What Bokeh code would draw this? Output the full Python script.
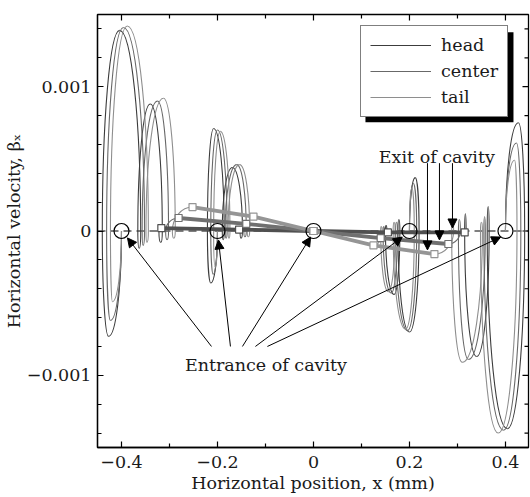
from bokeh.plotting import figure
from bokeh.models import (FixedTicker, Range1d, Span, Arrow, NormalHead,
                          Label, Legend, LegendItem, BoxAnnotation, ColumnDataSource)
from bokeh.embed import file_html
from bokeh.resources import INLINE

FONT = "DejaVu Serif"
FS = "17.5px"
TXT = "#1a1a1a"

# ---------------- data ----------------
series_names = ["head", "center", "tail"]
series_colors = ["#3c3c3c", "#686868", "#8e8e8e"]
exit_colors = ["#505050", "#707070", "#959595"]

x_ticks = [-0.4, -0.2, 0.0, 0.2, 0.4]
x_tick_labels = ["\u22120.4", "\u22120.2", "0", "0.2", "0.4"]
x_minor = [-0.3, -0.1, 0.1, 0.3]
y_ticks = [-0.001, 0.0, 0.001]
y_tick_labels = ["\u22120.001", "0", "0.001"]
y_minor = [-0.0014, -0.0012, -0.0008, -0.0006, -0.0004, -0.0002,
           0.0002, 0.0004, 0.0006, 0.0008, 0.0012, 0.0014]

entrance_x = [-0.4, -0.2, 0.0, 0.2, 0.4]
entrance_y = [0.0, 0.0, 0.0, 0.0, 0.0]

# trajectories: zero crossings (turns), lobe extreme x, lobe extreme beta
# entrance at -0.4
h_m4_turn = [-0.400, -0.440, -0.360, -0.366, -0.315, -0.322]
h_m4_px = [-0.427, -0.404, -0.363, -0.340, -0.318]
h_m4_py = [-0.00073, 0.00139, -0.00012, 0.00088, -0.00008]
c_m4_turn = [-0.400, -0.431, -0.352, -0.357, -0.302, -0.308]
c_m4_px = [-0.423, -0.396, -0.355, -0.325, -0.305]
c_m4_py = [-0.00062, 0.00141, -0.00010, 0.00090, -0.00006]
t_m4_turn = [-0.400, -0.423, -0.344, -0.349, -0.288, -0.294]
t_m4_px = [-0.419, -0.388, -0.347, -0.3125, -0.291]
t_m4_py = [-0.00049, 0.00142, -0.00008, 0.00092, -0.00005]
# entrance at -0.2
h_m2_turn = [-0.200, -0.221, -0.186, -0.190, -0.148, -0.153]
h_m2_px = [-0.214, -0.208, -0.188, -0.169, -0.151]
h_m2_py = [-0.00036, 0.00071, -0.00006, 0.00044, -0.00005]
c_m2_turn = [-0.200, -0.214, -0.180, -0.184, -0.140, -0.145]
c_m2_px = [-0.209, -0.200, -0.182, -0.160, -0.143]
c_m2_py = [-0.00030, 0.00070, -0.00005, 0.00046, -0.00004]
t_m2_turn = [-0.200, -0.208, -0.174, -0.178, -0.133, -0.138]
t_m2_px = [-0.205, -0.194, -0.176, -0.154, -0.136]
t_m2_py = [-0.00025, 0.00069, -0.00005, 0.00046, -0.00004]
# entrance at 0.2
h_p2_turn = [0.200, 0.220, 0.176, 0.180, 0.150, 0.153]
h_p2_px = [0.212, 0.200, 0.178, 0.168, 0.151]
h_p2_py = [0.00037, -0.00070, 0.00008, -0.00044, 0.00004]
c_p2_turn = [0.200, 0.215, 0.171, 0.175, 0.145, 0.148]
c_p2_px = [0.208, 0.196, 0.173, 0.162, 0.146]
c_p2_py = [0.00033, -0.00069, 0.00006, -0.00043, 0.00003]
t_p2_turn = [0.200, 0.210, 0.166, 0.170, 0.140, 0.143]
t_p2_px = [0.205, 0.192, 0.168, 0.156, 0.141]
t_p2_py = [0.00030, -0.00068, 0.00006, -0.00042, 0.00003]
# entrance at 0.4
h_p4_turn = [0.400, 0.440, 0.362, 0.366, 0.315, 0.318]
h_p4_px = [0.427, 0.404, 0.364, 0.340, 0.3165]
h_p4_py = [0.00075, -0.00137, 0.00017, -0.00087, 0.00012]
c_p4_turn = [0.400, 0.432, 0.355, 0.358, 0.302, 0.306]
c_p4_px = [0.423, 0.396, 0.3565, 0.323, 0.304]
c_p4_py = [0.00061, -0.00138, 0.00010, -0.00089, 0.00008]
t_p4_turn = [0.400, 0.424, 0.348, 0.352, 0.288, 0.292]
t_p4_px = [0.419, 0.385, 0.350, 0.310, 0.290]
t_p4_py = [0.00049, -0.00140, 0.00006, -0.00091, 0.00005]

# exit points (squares) for entrances -0.4, -0.2, 0, 0.2, 0.4
head_exit_x = [-0.317, -0.155, 0.0, 0.155, 0.315]
head_exit_y = [0.00002, 0.00001, 0.0, -0.00001, -0.00001]
center_exit_x = [-0.281, -0.140, 0.0, 0.140, 0.281]
center_exit_y = [0.00009, 0.00005, 0.0, -0.00005, -0.00009]
tail_exit_x = [-0.252, -0.125, 0.0, 0.125, 0.252]
tail_exit_y = [0.000166, 0.0001, 0.0, -0.0001, -0.00016]

# annotation arrows
entr_arrow_x0 = [-0.2125, -0.173, -0.148, -0.121, -0.096]
entr_arrow_y0 = [-0.00080, -0.00080, -0.00080, -0.00080, -0.00080]
entr_arrow_x1 = [-0.3875, -0.198, -0.006, 0.185, 0.390]
entr_arrow_y1 = [-0.000048, -0.000062, -0.000042, -0.000042, -0.000042]
exit_arrow_x = [0.2375, 0.2625, 0.2896]
exit_arrow_y0 = [0.00047, 0.00047, 0.00047]
exit_arrow_y1 = [-0.000131, -0.000062, 0.000021]

X0, X1, Y0, Y1 = -0.45, 0.448, -0.0015, 0.0015

# ---------------- figure ----------------
p = figure(width=530, height=497, x_range=Range1d(X0, X1),
           y_range=Range1d(Y0, Y1), output_backend="svg",
           toolbar_location=None, min_border_left=97, min_border_right=2,
           min_border_top=14, min_border_bottom=50)
p.grid.visible = False
p.outline_line_color = "black"
p.outline_line_width = 1.3
p.background_fill_color = "white"
p.border_fill_color = "white"


def style_axis(ax, ticks, minor, labels, standoff, label_standoff):
    ax.ticker = FixedTicker(ticks=ticks, minor_ticks=minor)
    ax.major_tick_in = 6
    ax.major_tick_out = 0
    ax.minor_tick_in = 4
    ax.minor_tick_out = 0
    ax.axis_line_color = "black"
    ax.axis_line_width = 1.3
    ax.major_tick_line_color = "black"
    ax.major_tick_line_width = 1.2
    ax.minor_tick_line_color = "black"
    ax.minor_tick_line_width = 1.2
    ax.major_label_overrides = {t: l for t, l in zip(ticks, labels)}
    ax.major_label_text_font = FONT
    ax.major_label_text_font_size = FS
    ax.major_label_text_color = TXT
    ax.major_label_standoff = standoff
    ax.axis_label_text_font = FONT
    ax.axis_label_text_font_size = FS
    ax.axis_label_text_font_style = "normal"
    ax.axis_label_text_color = TXT
    ax.axis_label_standoff = label_standoff


style_axis(p.xaxis[0], x_ticks, x_minor, x_tick_labels, 8, 2)
style_axis(p.yaxis[0], y_ticks, y_minor, y_tick_labels, 6, 0)
p.xaxis[0].axis_label = "Horizontal position, x (mm)"
p.yaxis[0].axis_label = "Horizontal velocity, \u03b2\u2093"

# inward ticks on top and right edges (half of each dash is clipped by the frame)
p.scatter(x_ticks, [Y1] * len(x_ticks), marker="dash", angle=1.5708, size=12,
          line_color="black", line_width=1.2)
p.scatter(x_minor, [Y1] * len(x_minor), marker="dash", angle=1.5708, size=8,
          line_color="black", line_width=1.2)
p.scatter([X1] * len(y_ticks), y_ticks, marker="dash", size=12,
          line_color="black", line_width=1.2)
p.scatter([X1] * len(y_minor), y_minor, marker="dash", size=8,
          line_color="black", line_width=1.2)

# dashed zero line
p.add_layout(Span(location=0, dimension="width", line_color="black",
                  line_width=1.1, line_dash="8 5", level="underlay"))

K = 0.5523  # quarter-ellipse bezier constant


def build(parts, exits):
    d = {k: [] for k in ("x0", "y0", "x1", "y1", "cx0", "cy0", "cx1", "cy1")}

    def add(*vals):
        for k, v in zip(("x0", "y0", "x1", "y1", "cx0", "cy0", "cx1", "cy1"), vals):
            d[k].append(v)

    for (turns, px, py), (ex, ey) in zip(parts, exits):
        for i in range(len(px)):
            a, b, xp, h = turns[i], turns[i + 1], px[i], py[i]
            add(a, 0.0, xp, h, a, K * h, xp - K * (xp - a), h)
            add(xp, h, b, 0.0, xp + K * (b - xp), h, b, K * h)
        last = turns[-1]
        add(last, 0.0, ex, ey, last, K * ey, ex - K * (ex - last), ey)
    return d


traj = {
    "head": [(h_m4_turn, h_m4_px, h_m4_py), (h_m2_turn, h_m2_px, h_m2_py),
             (h_p2_turn, h_p2_px, h_p2_py), (h_p4_turn, h_p4_px, h_p4_py)],
    "center": [(c_m4_turn, c_m4_px, c_m4_py), (c_m2_turn, c_m2_px, c_m2_py),
               (c_p2_turn, c_p2_px, c_p2_py), (c_p4_turn, c_p4_px, c_p4_py)],
    "tail": [(t_m4_turn, t_m4_px, t_m4_py), (t_m2_turn, t_m2_px, t_m2_py),
             (t_p2_turn, t_p2_px, t_p2_py), (t_p4_turn, t_p4_px, t_p4_py)],
}
exits = {
    "head": (head_exit_x, head_exit_y),
    "center": (center_exit_x, center_exit_y),
    "tail": (tail_exit_x, tail_exit_y),
}

legend_items = []
for name, col in zip(series_names, series_colors):
    ex, ey = exits[name]
    ex_pts = [(ex[i], ey[i]) for i in (0, 1, 3, 4)]
    src = ColumnDataSource(build(traj[name], ex_pts))
    r = p.bezier(x0="x0", y0="y0", x1="x1", y1="y1", cx0="cx0", cy0="cy0",
                 cx1="cx1", cy1="cy1", source=src, line_color=col, line_width=1.1)
    legend_items.append(LegendItem(label=name, renderers=[r]))

# exit connection lines with squares
for name, col in zip(series_names, exit_colors):
    ex, ey = exits[name]
    p.line(ex, ey, line_color=col, line_width=3.8)
    p.scatter(ex, ey, marker="square", size=7, fill_color="white",
              line_color=col, line_width=1.2)

# entrance circles
p.scatter(entrance_x, entrance_y, marker="circle", size=15, fill_color=None,
          line_color="black", line_width=1.2)

# arrows
head_style = dict(size=9, fill_color="black", line_color="black", line_width=1)
p.add_layout(Arrow(end=NormalHead(**head_style), line_color="black", line_width=1,
                   source=ColumnDataSource(dict(x0=entr_arrow_x0, y0=entr_arrow_y0,
                                                x1=entr_arrow_x1, y1=entr_arrow_y1)),
                   x_start="x0", y_start="y0", x_end="x1", y_end="y1"))
p.add_layout(Arrow(end=NormalHead(**head_style), line_color="black", line_width=1,
                   source=ColumnDataSource(dict(x0=exit_arrow_x, y0=exit_arrow_y0,
                                                x1=exit_arrow_x, y1=exit_arrow_y1)),
                   x_start="x0", y_start="y0", x_end="x1", y_end="y1"))

p.add_layout(Label(x=-0.099, y=-0.000927, text="Entrance of cavity",
                   text_font=FONT, text_font_size=FS,
                   text_color=TXT, text_align="center", text_baseline="alphabetic"))
p.add_layout(Label(x=0.257, y=0.000512, text="Exit of cavity",
                   text_font=FONT, text_font_size=FS, text_color=TXT,
                   text_align="center", text_baseline="alphabetic"))

# legend with drop shadow
p.add_layout(BoxAnnotation(left=0.1083, right=0.4167, top=0.001377, bottom=0.000754,
                           fill_color="black", fill_alpha=1.0, line_color=None))
legend = Legend(items=legend_items, location=(263, 330), orientation="vertical",
                label_text_font=FONT, label_text_font_size=FS,
                label_text_color=TXT,
                glyph_width=61, glyph_height=20, label_height=20, label_standoff=10,
                spacing=6, padding=9, margin=0, border_line_color="black",
                border_line_width=1.2, background_fill_color="white",
                background_fill_alpha=1.0)
p.add_layout(legend)

open("out.html", "w").write(file_html(p, INLINE))
